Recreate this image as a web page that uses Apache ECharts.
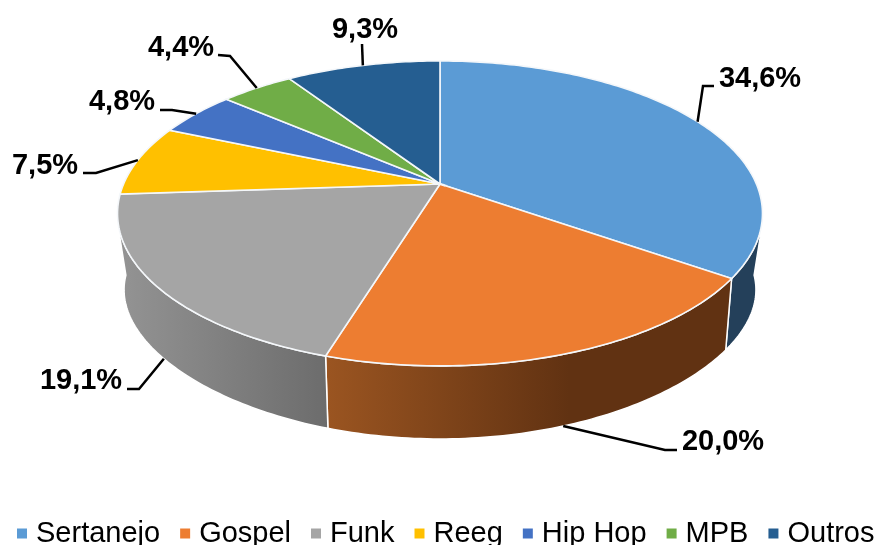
<!DOCTYPE html>
<html style="height: 100%">
<head>
<meta charset="utf-8">
</head>
<body style="height: 100%; margin: 0; background: #fff">
<div id="container" style="height: 100%"></div>
<script src="https://cdn.jsdelivr.net/npm/echarts@6/dist/echarts.min.js"></script>
<script>
// chart values
var categories = ['Sertanejo', 'Gospel', 'Funk', 'Reeg', 'Hip Hop', 'MPB', 'Outros'];
var shares = [34.6, 20.0, 19.1, 7.5, 4.8, 4.4, 9.3];

// slice colours and the shading of their outer wall
var colors = ['#5b9bd5', '#ed7d31', '#a5a5a5', '#ffc000', '#4472c4', '#70ad47', '#255e91'];
var wallStops = [
    [[0, '#24405a'], [1, '#24405a']],
    [[0, '#9b5521'], [0.6, '#613212'], [1, '#613212']],
    [[0, '#949494'], [1, '#6c6c6c']],
    [[0, '#8f6d00'], [1, '#8f6d00']],
    [[0, '#2a4479'], [1, '#2a4479']],
    [[0, '#43682a'], [1, '#43682a']],
    [[0, '#163a5c'], [1, '#163a5c']]
];

// projected disc: top face and the smaller bottom rim seen in perspective
var top3d = { cx: 440, cy: 184, kx: 316.4, ky: 146.8, px: 0.193, py: 0.193 };
var bottom3d = { cx: 440, cy: 264, kx: 310, ky: 126.3, px: 0.193, py: 0.278 };

// only this part of the wall faces the viewer; its ends run up to the shoulders
var wallFront = [95 * Math.PI / 180, 265 * Math.PI / 180];
var shoulders = [[760.5, 235], [119.5, 235]];

// callout layout: label centre, then leader points from the rim outwards
var callouts = [
    { label: [760, 79], path: [[703, 86], [714, 86]], rim: top3d },
    { label: [723, 442], path: [[665, 450], [677, 450]], rim: bottom3d },
    { label: [81, 381], path: [[139, 389], [127, 389]], rim: bottom3d },
    { label: [45, 166], path: [[96, 173], [83, 173]], rim: top3d },
    { label: [122, 102], path: [[172, 110], [160, 110]], rim: top3d },
    { label: [181, 48], path: [[230, 56], [218, 55]], rim: top3d },
    { label: [365, 30], path: [[362, 44]], rim: top3d }
];

var total = shares.reduce(function (a, b) { return a + b; }, 0);

function project(disc, angle) {
    var u = Math.sin(angle);
    var v = -Math.cos(angle);
    return [
        disc.cx + disc.kx * u / (1 - disc.px * v),
        disc.cy + disc.ky * v / (1 - disc.py * v)
    ];
}

function sliceAngles(index) {
    var before = 0;
    for (var i = 0; i < index; i++) {
        before += shares[i];
    }
    return [before / total * 2 * Math.PI, (before + shares[index]) / total * 2 * Math.PI];
}

function arc(disc, from, to) {
    var steps = Math.max(2, Math.ceil((to - from) * 60));
    var pts = [];
    for (var i = 0; i <= steps; i++) {
        pts.push(project(disc, from + (to - from) * i / steps));
    }
    return pts;
}

function renderWall(params) {
    var range = sliceAngles(params.seriesIndex);
    var from = Math.max(range[0], wallFront[0]);
    var to = Math.min(range[1], wallFront[1]);
    if (from >= to) {
        return;
    }
    var pts = arc(top3d, from, to);
    if (range[1] > wallFront[1]) {
        pts.push(shoulders[1]);
    }
    pts = pts.concat(arc(bottom3d, from, to).reverse());
    if (range[0] < wallFront[0]) {
        pts.push(shoulders[0]);
    }
    return {
        type: 'polygon',
        shape: { points: pts },
        style: {
            fill: {
                type: 'linear', x: 0, y: 0, x2: 1, y2: 0,
                colorStops: wallStops[params.seriesIndex].map(function (s) {
                    return { offset: s[0], color: s[1] };
                })
            },
            stroke: '#fff',
            lineWidth: 1.5
        }
    };
}

function renderFace(params, api) {
    var i = params.seriesIndex - categories.length;
    var range = sliceAngles(i);
    var co = callouts[i];
    var anchor = project(co.rim, (range[0] + range[1]) / 2);
    return {
        type: 'group',
        children: [
            {
                type: 'polygon',
                shape: { points: [[top3d.cx, top3d.cy]].concat(arc(top3d, range[0], range[1])) },
                style: { fill: colors[i], stroke: '#f4f7fa', lineWidth: 1.6 }
            },
            {
                type: 'polyline',
                shape: { points: [anchor].concat(co.path) },
                style: { fill: 'none', stroke: '#000', lineWidth: 2.5 }
            },
            {
                type: 'text',
                style: {
                    x: co.label[0],
                    y: co.label[1],
                    text: api.value(0).toFixed(1).replace('.', ',') + '%',
                    fill: '#000',
                    font: 'bold 29px "Liberation Sans"',
                    align: 'center',
                    verticalAlign: 'middle'
                }
            }
        ]
    };
}

var series = [];
categories.forEach(function (name, i) {
    series.push({
        type: 'custom', name: name, coordinateSystem: 'none', z: 1, silent: true,
        itemStyle: { color: colors[i] }, renderItem: renderWall, data: [[shares[i]]]
    });
});
categories.forEach(function (name, i) {
    series.push({
        type: 'custom', name: name, coordinateSystem: 'none', z: 2, silent: true,
        itemStyle: { color: colors[i] }, renderItem: renderFace, data: [[shares[i]]]
    });
});

var myChart = echarts.init(document.getElementById('container'));
myChart.setOption({
    animation: false,
    backgroundColor: '#fff',
    legend: {
        data: categories,
        icon: 'rect',
        left: 12,
        right: 0,
        top: 514,
        padding: [5, 0, 5, 5],
        itemWidth: 10,
        itemHeight: 10,
        itemGap: 20,
        selectedMode: false,
        textStyle: {
            color: '#000',
            fontFamily: 'Liberation Sans',
            fontSize: 29,
            padding: [0, 0, 0, 4]
        }
    },
    series: series
});
</script>
</body>
</html>
